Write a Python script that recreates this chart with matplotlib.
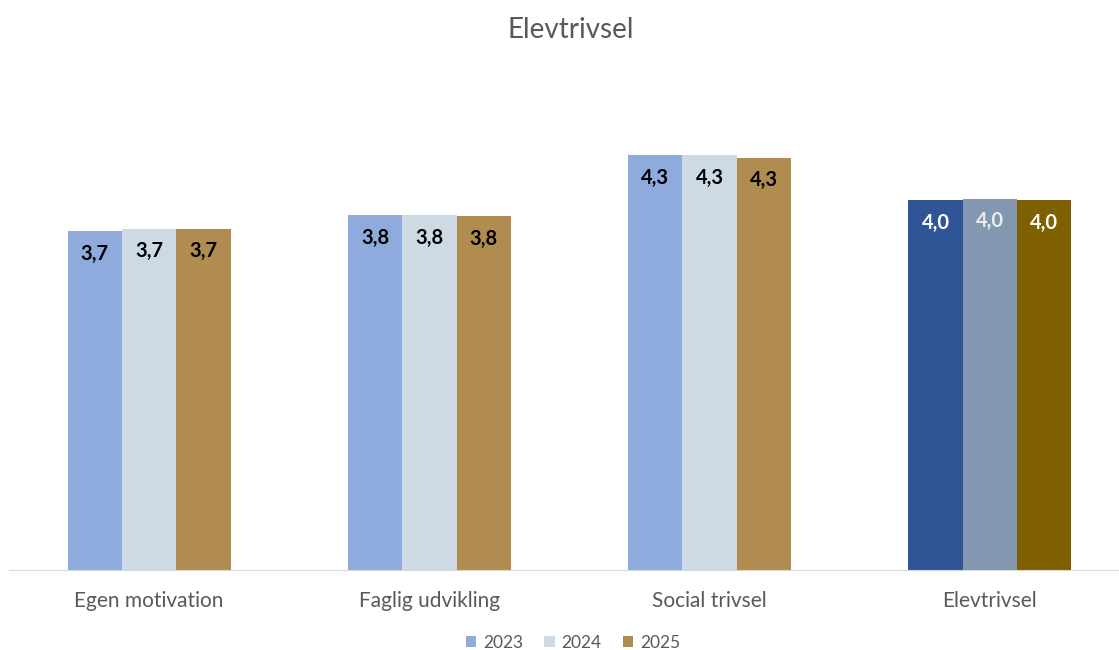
import numpy as np
import matplotlib
matplotlib.use('Agg')
import matplotlib.pyplot as plt
from matplotlib.patches import Patch

# Data (scale starts at 1)
categories = ['Egen motivation', 'Faglig udvikling', 'Social trivsel', 'Elevtrivsel']
years = ['2023', '2024', '2025']
v2023 = [3.71, 3.84, 4.32, 3.96]
v2024 = [3.73, 3.84, 4.32, 3.97]
v2025 = [3.73, 3.83, 4.30, 3.96]

colors = {'2023': '#8FAADC', '2024': '#CDDAE4', '2025': '#B08C50'}
# the total column uses darker shades
dark_colors = {'2023': '#2F5597', '2024': '#8497B0', '2025': '#7F6000'}

plt.rcParams['font.family'] = ['Lato', 'DejaVu Sans']

fig = plt.figure(figsize=(11.19, 6.5), dpi=100)
ax = fig.add_axes([9 / 1119, 80 / 650, 1121 / 1119, 470 / 650])

x = np.arange(len(categories))
width = 0.194
series = [v2023, v2024, v2025]

for i, (year, vals) in enumerate(zip(years, series)):
    pos = x + (i - 1) * width
    cols = [colors[year]] * 3 + [dark_colors[year]]
    bars = ax.bar(pos, np.array(vals) - 1, width, bottom=1, color=cols)
    for j, b in enumerate(bars):
        txt_col = 'white' if j == 3 else 'black'
        if j == 3 and year == '2024':
            txt_col = '#EDEDED'
        label = f'{vals[j]:.1f}'.replace('.', ',')
        ax.text(b.get_x() + b.get_width() / 2, vals[j] - 0.18, label,
                ha='center', va='center', fontsize=14.5, fontweight='bold', color=txt_col)

ax.set_xlim(-0.5, 3.5)
ax.set_ylim(1, 1 + 470 / 125)
ax.set_yticks([])
ax.set_xticks(x)
ax.set_xticklabels(categories, fontsize=15, color='#595959')
ax.tick_params(axis='x', length=0, pad=15)
for s in ['top', 'right', 'left']:
    ax.spines[s].set_visible(False)
ax.spines['bottom'].set_color('#D9D9D9')

fig.text(571 / 1119, 1 - 30 / 650, 'Elevtrivsel', ha='center', va='center',
         fontsize=20, color='#595959')

handles = [Patch(facecolor=colors[y]) for y in years]
fig.legend(handles, years, loc='center', bbox_to_anchor=(573 / 1119, 1 - 643 / 650),
           ncol=3, frameon=False, fontsize=12.5, labelcolor='#595959',
           handlelength=0.6, handleheight=0.6, handletextpad=0.4, columnspacing=1.2)

fig.savefig('out.png', dpi=100)
